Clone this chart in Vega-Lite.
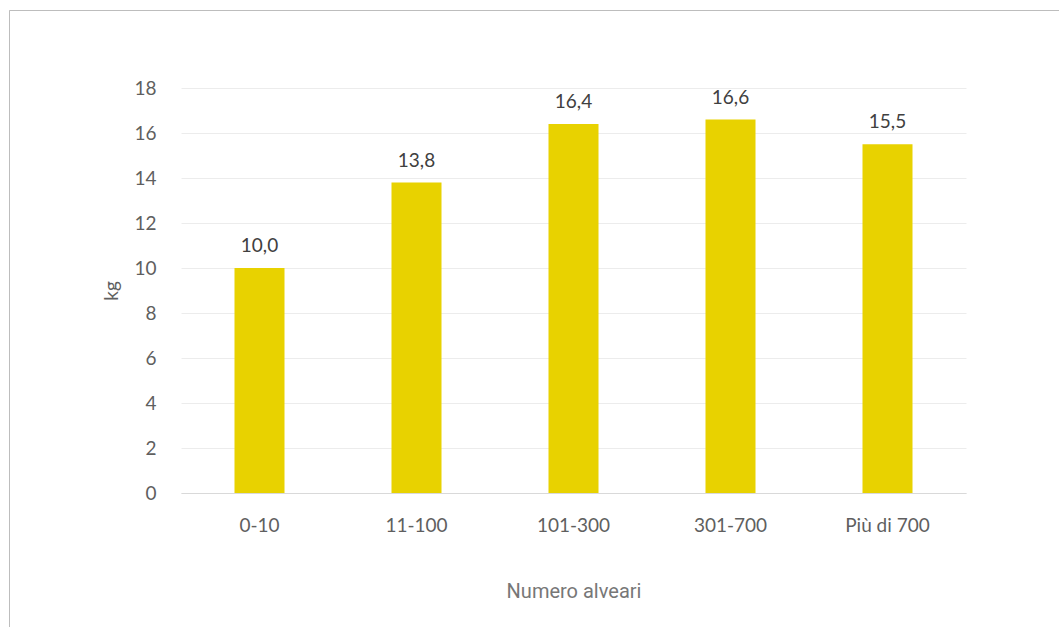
{
  "$schema": "https://vega.github.io/schema/vega-lite/v6.json",
  "autosize": "none",
  "width": 1050,
  "height": 617,
  "padding": {"left": 9, "top": 10, "right": 0, "bottom": 0},
  "background": "white",
  "view": {"stroke": "#bdbdbd", "strokeWidth": 1, "strokeDash": [1050, 1667, 617], "strokeDashOffset": 0},
  "config": {
    "locale": {
      "number": {"decimal": ",", "thousands": ".", "grouping": [3], "currency": ["€", ""]}
    }
  },
  "data": {
    "values": [
      {"classe": "0-10", "kg": 10.0},
      {"classe": "11-100", "kg": 13.8},
      {"classe": "101-300", "kg": 16.4},
      {"classe": "301-700", "kg": 16.6},
      {"classe": "Più di 700", "kg": 15.5}
    ]
  },
  "encoding": {
    "x": {
      "field": "classe",
      "type": "nominal",
      "sort": null,
      "scale": {"range": [172, 957], "paddingInner": 0, "paddingOuter": 0},
      "axis": {
        "title": "Numero alveari",
        "orient": "bottom",
        "offset": -134,
        "labelAngle": 0,
        "ticks": false,
        "labelPadding": 23,
        "labelFont": "Lato",
        "labelFontSize": 19,
        "labelColor": "#5f5f5f",
        "domainColor": "#d9d9d9",
        "domainWidth": 1,
        "grid": false,
        "titleFont": "Roboto",
        "titleFontSize": 20,
        "titleFontWeight": "normal",
        "titleColor": "#777777",
        "titlePadding": 46
      }
    },
    "y": {
      "field": "kg",
      "type": "quantitative",
      "scale": {"domain": [0, 18], "range": [483, 78], "nice": false},
      "axis": {
        "title": "kg",
        "orient": "left",
        "offset": -147,
        "values": [0, 2, 4, 6, 8, 10, 12, 14, 16, 18],
        "domain": false,
        "ticks": false,
        "labelPadding": 0,
        "labelFont": "Lato",
        "labelFontSize": 19,
        "labelColor": "#5f5f5f",
        "grid": true,
        "gridColor": "#ececec",
        "gridWidth": 1,
        "titleFont": "Lato",
        "titleFontSize": 19,
        "titleFontWeight": "normal",
        "titleColor": "#5f5f5f",
        "titlePadding": 12
      }
    }
  },
  "layer": [
    {
      "mark": {"type": "bar", "width": 50, "color": "#e8d200"}
    },
    {
      "mark": {
        "type": "text",
        "baseline": "alphabetic",
        "dy": -16,
        "font": "Lato",
        "fontSize": 19,
        "color": "#404040"
      },
      "encoding": {
        "text": {"field": "kg", "type": "quantitative", "format": ".1f"}
      }
    }
  ]
}
